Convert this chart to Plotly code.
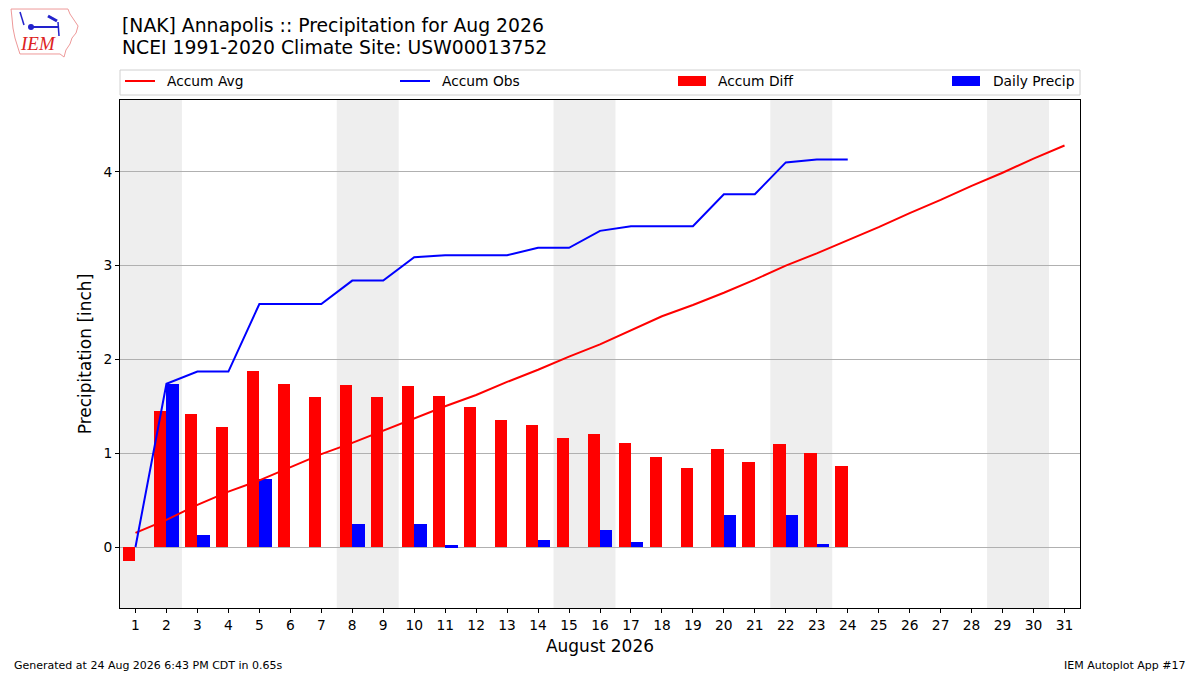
import datetime
import plotly.graph_objects as go

# August 2026 daily values
days = list(range(1, 32))
daily_precip = [0.00, 1.74, 0.13, 0.00, 0.72, 0.00, 0.00, 0.25, 0.00, 0.25,
                0.02, 0.00, 0.00, 0.08, 0.00, 0.18, 0.05, 0.00, 0.00, 0.34,
                0.00, 0.34, 0.03, 0.00]
accum_obs = [0.00, 1.74, 1.87, 1.87, 2.59, 2.59, 2.59, 2.84, 2.84, 3.09,
             3.11, 3.11, 3.11, 3.19, 3.19, 3.37, 3.42, 3.42, 3.42, 3.76,
             3.76, 4.10, 4.13, 4.13]
accum_avg = [0.15, 0.29, 0.45, 0.59, 0.71, 0.85, 0.99, 1.11, 1.24, 1.37,
             1.50, 1.62, 1.76, 1.89, 2.03, 2.16, 2.31, 2.46, 2.58, 2.71,
             2.85, 3.00, 3.13, 3.27, 3.41, 3.56, 3.70, 3.85, 3.99, 4.14,
             4.28]
accum_diff = [-0.15, 1.45, 1.42, 1.28, 1.88, 1.74, 1.60, 1.73, 1.60, 1.72,
              1.61, 1.49, 1.35, 1.30, 1.16, 1.21, 1.11, 0.96, 0.84, 1.05,
              0.91, 1.10, 1.00, 0.86]
obs_days = days[:len(accum_obs)]

W, H = 1200, 675
L, R, T, B = 120, 1080, 100, 608
FONT = "DejaVu Sans"


def px(x):
    return (x - L) / (R - L)


def py(y):
    return (B - y) / (B - T)


fig = go.Figure()

fig.add_trace(go.Bar(x=obs_days, y=accum_diff, width=0.4, offset=-0.4,
                     marker=dict(color="red", line=dict(width=0)),
                     name="Accum Diff", showlegend=False))
fig.add_trace(go.Bar(x=obs_days, y=daily_precip, width=0.4, offset=0,
                     marker=dict(color="blue", line=dict(width=0)),
                     name="Daily Precip", showlegend=False))
fig.add_trace(go.Scatter(x=days, y=accum_avg, mode="lines",
                         line=dict(color="red", width=2),
                         name="Accum Avg", showlegend=False))
fig.add_trace(go.Scatter(x=obs_days, y=accum_obs, mode="lines",
                         line=dict(color="blue", width=2),
                         name="Accum Obs", showlegend=False))

shapes = []
# weekend shading, one band per Sat+Sun pair
for d in days:
    if datetime.date(2026, 8, d).weekday() == 5:
        shapes.append(dict(type="rect", xref="x", yref="paper",
                           x0=d - 0.5, x1=d + 1.5, y0=0, y1=1,
                           fillcolor="#eeeeee", line=dict(width=0),
                           layer="below"))

# legend box and symbols (matplotlib-style expanded legend)
shapes.append(dict(type="rect", xref="paper", yref="paper",
                   x0=px(120), x1=px(1080), y0=py(95), y1=py(70),
                   line=dict(color="#d0d0d0", width=1), fillcolor="white"))
shapes.append(dict(type="line", xref="paper", yref="paper",
                   x0=px(125), x1=px(155), y0=py(81), y1=py(81),
                   line=dict(color="red", width=2)))
shapes.append(dict(type="line", xref="paper", yref="paper",
                   x0=px(400), x1=px(430), y0=py(81), y1=py(81),
                   line=dict(color="blue", width=2)))
shapes.append(dict(type="rect", xref="paper", yref="paper",
                   x0=px(678), x1=px(706), y0=py(86), y1=py(76),
                   fillcolor="red", line=dict(width=0)))
shapes.append(dict(type="rect", xref="paper", yref="paper",
                   x0=px(952), x1=px(980), y0=py(86), y1=py(76),
                   fillcolor="blue", line=dict(width=0)))

# rough IEM logo: state outline plus a small blue glyph
outline = [(11, 9), (68, 9), (70, 14), (74, 20), (78, 26), (76, 33), (72, 38),
           (70, 44), (66, 50), (64, 57), (60, 54), (20, 54), (18, 48), (15, 38),
           (13, 28), (12, 18)]
path = "M " + " L ".join(f"{px(a):.4f},{py(b):.4f}" for a, b in outline) + " Z"
shapes.append(dict(type="path", xref="paper", yref="paper", path=path,
                   line=dict(color="#ee9999", width=1)))
shapes.append(dict(type="line", xref="paper", yref="paper",
                   x0=px(30), x1=px(58), y0=py(27), y1=py(27),
                   line=dict(color="#2222cc", width=2)))
shapes.append(dict(type="circle", xref="paper", yref="paper",
                   x0=px(28), x1=px(34), y0=py(30), y1=py(24),
                   fillcolor="#2222cc", line=dict(width=0)))
shapes.append(dict(type="line", xref="paper", yref="paper",
                   x0=px(48), x1=px(57), y0=py(16), y1=py(21),
                   line=dict(color="#2222cc", width=3)))
shapes.append(dict(type="line", xref="paper", yref="paper",
                   x0=px(58), x1=px(59), y0=py(22), y1=py(36),
                   line=dict(color="#2222cc", width=1.5)))
shapes.append(dict(type="line", xref="paper", yref="paper",
                   x0=px(20), x1=px(24), y0=py(12), y1=py(25),
                   line=dict(color="#2222cc", width=1.5)))

annotations = [
    dict(text="[NAK] Annapolis :: Precipitation for Aug 2026", x=px(120), y=py(25),
         xanchor="left", yanchor="middle", font=dict(size=18.8)),
    dict(text="NCEI 1991-2020 Climate Site: USW00013752", x=px(120), y=py(48),
         xanchor="left", yanchor="middle", font=dict(size=18.8)),
    dict(text="Accum Avg", x=px(165), y=py(81), xanchor="left", yanchor="middle",
         font=dict(size=13.8)),
    dict(text="Accum Obs", x=px(440), y=py(81), xanchor="left", yanchor="middle",
         font=dict(size=13.8)),
    dict(text="Accum Diff", x=px(716), y=py(81), xanchor="left", yanchor="middle",
         font=dict(size=13.8)),
    dict(text="Daily Precip", x=px(991), y=py(81), xanchor="left", yanchor="middle",
         font=dict(size=13.8)),
    dict(text="Generated at 24 Aug 2026 6:43 PM CDT in 0.65s", x=px(12), y=py(665),
         xanchor="left", yanchor="middle", font=dict(size=11)),
    dict(text="IEM Autoplot App #17", x=px(1188), y=py(665),
         xanchor="right", yanchor="middle", font=dict(size=11)),
    dict(text="<i>IEM</i>", x=px(38), y=py(44), xanchor="center", yanchor="middle",
         font=dict(size=19, family="Liberation Serif", color="#dd2222")),
]
for a in annotations:
    a.update(xref="paper", yref="paper", showarrow=False)
    a["font"].setdefault("family", FONT)
    a["font"].setdefault("color", "black")

fig.update_layout(
    width=W, height=H,
    margin=dict(l=L, r=W - R, t=T, b=H - B),
    paper_bgcolor="white", plot_bgcolor="white",
    font=dict(family=FONT, color="black", size=13.8),
    barmode="overlay", bargap=0,
    shapes=shapes, annotations=annotations,
    showlegend=False,
)
fig.update_xaxes(range=[0.5, 31.5], tickmode="array", tickvals=days,
                 ticktext=[str(d) for d in days],
                 ticks="outside", ticklen=4, tickcolor="black",
                 showgrid=False, zeroline=False,
                 showline=True, linecolor="black", linewidth=1, mirror=True,
                 title=dict(text="August 2026", font=dict(size=17), standoff=8))
fig.update_yaxes(range=[-0.65, 4.765], tickvals=[0, 1, 2, 3, 4],
                 ticks="outside", ticklen=4, tickcolor="black",
                 showgrid=True, gridcolor="#b0b0b0", gridwidth=1, zeroline=False,
                 showline=True, linecolor="black", linewidth=1, mirror=True,
                 title=dict(text="Precipitation [inch]", font=dict(size=17),
                            standoff=7))

fig.write_html("out.html", config={"displayModeBar": False},
               post_script="document.body.style.margin='0';")
